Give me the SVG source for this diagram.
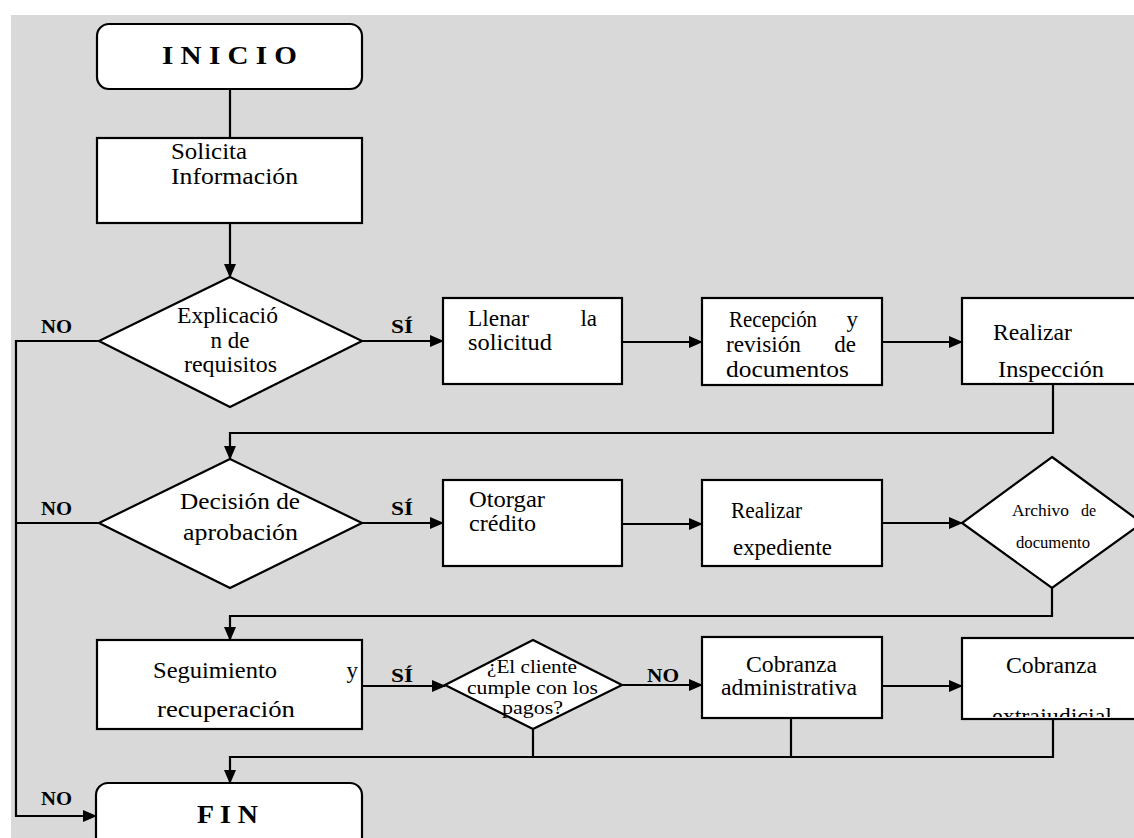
<svg xmlns="http://www.w3.org/2000/svg" width="1134" height="838" viewBox="0 0 1134 838">
<style>
.n{fill:#fff;stroke:#000;stroke-width:2.2}
.c{fill:none;stroke:#000;stroke-width:2.2}
.t{font-family:"Liberation Serif",serif;font-size:23px;fill:#000}
.s{font-family:"Liberation Serif",serif;font-size:19px;fill:#000}
.x{font-family:"Liberation Serif",serif;font-size:16px;fill:#000}
.b{font-family:"Liberation Serif",serif;font-weight:bold;font-size:19px;fill:#000}
.h{font-family:"Liberation Serif",serif;font-weight:bold;font-size:26px;fill:#000}
</style>
<defs>
<marker id="a" markerUnits="userSpaceOnUse" markerWidth="14" markerHeight="12" refX="13" refY="6" orient="auto">
<path d="M0,0 L14,6 L0,12 Z" fill="#000"/>
</marker>
<clipPath id="clipExtra"><rect x="962" y="638" width="200" height="79"/></clipPath>
</defs>
<rect x="11" y="15" width="1123" height="823" fill="#d9d9d9"/>

<g id="connectors">
<path class="c" d="M230,89 V138"/>
<path class="c" d="M230,223 V277" marker-end="url(#a)"/>
<path class="c" d="M362,341 H443" marker-end="url(#a)"/>
<path class="c" d="M622,342 H702" marker-end="url(#a)"/>
<path class="c" d="M882,342 H962" marker-end="url(#a)"/>
<path class="c" d="M1053,384 V433 H230 V459" marker-end="url(#a)"/>
<path class="c" d="M99,341 H16 V816 H96" marker-end="url(#a)"/>
<path class="c" d="M99,523 H16"/>
<path class="c" d="M362,523 H443" marker-end="url(#a)"/>
<path class="c" d="M622,524 H702" marker-end="url(#a)"/>
<path class="c" d="M882,523 H962" marker-end="url(#a)"/>
<path class="c" d="M1052,588 V616 H230 V640" marker-end="url(#a)"/>
<path class="c" d="M362,686 H445" marker-end="url(#a)"/>
<path class="c" d="M622,685 H702" marker-end="url(#a)"/>
<path class="c" d="M882,686 H962" marker-end="url(#a)"/>
<path class="c" d="M533,729 V757"/>
<path class="c" d="M791,718 V757"/>
<path class="c" d="M1053,719 V757 H230 V783" marker-end="url(#a)"/>
<text class="b" x="41" y="333" textLength="31" lengthAdjust="spacingAndGlyphs">NO</text>
<text class="b" x="391" y="333" textLength="22" lengthAdjust="spacingAndGlyphs">SÍ</text>
<text class="b" x="41" y="515" textLength="31" lengthAdjust="spacingAndGlyphs">NO</text>
<text class="b" x="391" y="515" textLength="22" lengthAdjust="spacingAndGlyphs">SÍ</text>
<text class="b" x="391" y="682" textLength="22" lengthAdjust="spacingAndGlyphs">SÍ</text>
<text class="b" x="647" y="682" textLength="32" lengthAdjust="spacingAndGlyphs">NO</text>
<text class="b" x="41" y="805" textLength="31" lengthAdjust="spacingAndGlyphs">NO</text>
</g>

<g id="inicio">
<rect class="n" x="97" y="24" width="265" height="65" rx="12"/>
<text class="h" x="162" y="64" textLength="135" lengthAdjust="spacingAndGlyphs">I N I C I O</text>
</g>
<g id="solicita">
<rect class="n" x="97" y="138" width="265" height="85"/>
<text class="t" x="171" y="159" textLength="76" lengthAdjust="spacingAndGlyphs">Solicita</text>
<text class="t" x="171" y="184" textLength="127" lengthAdjust="spacingAndGlyphs">Información</text>
</g>
<g id="explicacion">
<polygon class="n" points="230,277 362,341 230,407 99,341"/>
<text class="t" x="177" y="323" textLength="101" lengthAdjust="spacingAndGlyphs">Explicació</text>
<text class="t" x="230" y="348" text-anchor="middle">n de</text>
<text class="t" x="184" y="372" textLength="93" lengthAdjust="spacingAndGlyphs">requisitos</text>
</g>
<g id="llenar">
<rect class="n" x="443" y="298" width="179" height="86"/>
<text class="t" x="468" y="326" textLength="61" lengthAdjust="spacingAndGlyphs">Llenar</text>
<text class="t" x="597" y="326" text-anchor="end">la</text>
<text class="t" x="468" y="350" textLength="84" lengthAdjust="spacingAndGlyphs">solicitud</text>
</g>
<g id="recepcion">
<rect class="n" x="702" y="298" width="180" height="87"/>
<text class="t" x="729" y="327" textLength="88" lengthAdjust="spacingAndGlyphs">Recepción</text>
<text class="t" x="858" y="327" text-anchor="end">y</text>
<text class="t" x="726" y="352" textLength="75" lengthAdjust="spacingAndGlyphs">revisión</text>
<text class="t" x="856" y="352" text-anchor="end">de</text>
<text class="t" x="726" y="377" textLength="123" lengthAdjust="spacingAndGlyphs">documentos</text>
</g>
<g id="inspeccion">
<rect class="n" x="962" y="298" width="200" height="86"/>
<text class="t" x="993" y="340" textLength="79" lengthAdjust="spacingAndGlyphs">Realizar</text>
<text class="t" x="998" y="377" textLength="106" lengthAdjust="spacingAndGlyphs">Inspección</text>
</g>
<g id="decision">
<polygon class="n" points="230,459 362,523 230,588 99,523"/>
<text class="t" x="180" y="509" textLength="120" lengthAdjust="spacingAndGlyphs">Decisión de</text>
<text class="t" x="183" y="540" textLength="115" lengthAdjust="spacingAndGlyphs">aprobación</text>
</g>
<g id="otorgar">
<rect class="n" x="443" y="480" width="179" height="86"/>
<text class="t" x="469" y="507" textLength="76" lengthAdjust="spacingAndGlyphs">Otorgar</text>
<text class="t" x="469" y="531" textLength="67" lengthAdjust="spacingAndGlyphs">crédito</text>
</g>
<g id="expediente">
<rect class="n" x="702" y="480" width="180" height="86"/>
<text class="t" x="731" y="518" textLength="71" lengthAdjust="spacingAndGlyphs">Realizar</text>
<text class="t" x="733" y="555" textLength="99" lengthAdjust="spacingAndGlyphs">expediente</text>
</g>
<g id="archivo">
<polygon class="n" points="1052,457 1142,523 1052,588 962,523"/>
<text class="x" x="1012" y="516" textLength="57" lengthAdjust="spacingAndGlyphs">Archivo</text>
<text class="x" x="1096" y="516" text-anchor="end">de</text>
<text class="x" x="1016" y="548" textLength="74" lengthAdjust="spacingAndGlyphs">documento</text>
</g>
<g id="seguimiento">
<rect class="n" x="97" y="640" width="265" height="89"/>
<text class="t" x="153" y="678" textLength="124" lengthAdjust="spacingAndGlyphs">Seguimiento</text>
<text class="t" x="358" y="678" text-anchor="end">y</text>
<text class="t" x="157" y="717" textLength="138" lengthAdjust="spacingAndGlyphs">recuperación</text>
</g>
<g id="cumple">
<polygon class="n" points="533,640 622,685 533,729 445,685"/>
<text class="s" x="487" y="673" textLength="90" lengthAdjust="spacingAndGlyphs">¿El cliente</text>
<text class="s" x="467" y="694" textLength="131" lengthAdjust="spacingAndGlyphs">cumple con los</text>
<text class="s" x="502" y="714" textLength="61" lengthAdjust="spacingAndGlyphs">pagos?</text>
</g>
<g id="cobranza-admin">
<rect class="n" x="702" y="637" width="180" height="81"/>
<text class="t" x="746" y="672" textLength="91" lengthAdjust="spacingAndGlyphs">Cobranza</text>
<text class="t" x="721" y="695" textLength="136" lengthAdjust="spacingAndGlyphs">administrativa</text>
</g>
<g id="cobranza-extra">
<rect class="n" x="962" y="638" width="200" height="81"/>
<text class="t" x="1006" y="673" textLength="91" lengthAdjust="spacingAndGlyphs">Cobranza</text>
<text class="t" x="992" y="724" textLength="120" lengthAdjust="spacingAndGlyphs" clip-path="url(#clipExtra)">extrajudicial</text>
</g>
<g id="fin">
<rect class="n" x="96" y="783" width="266" height="90" rx="12"/>
<text class="h" x="197" y="823" font-size="24" textLength="61" lengthAdjust="spacingAndGlyphs">F I N</text>
</g>
</svg>
